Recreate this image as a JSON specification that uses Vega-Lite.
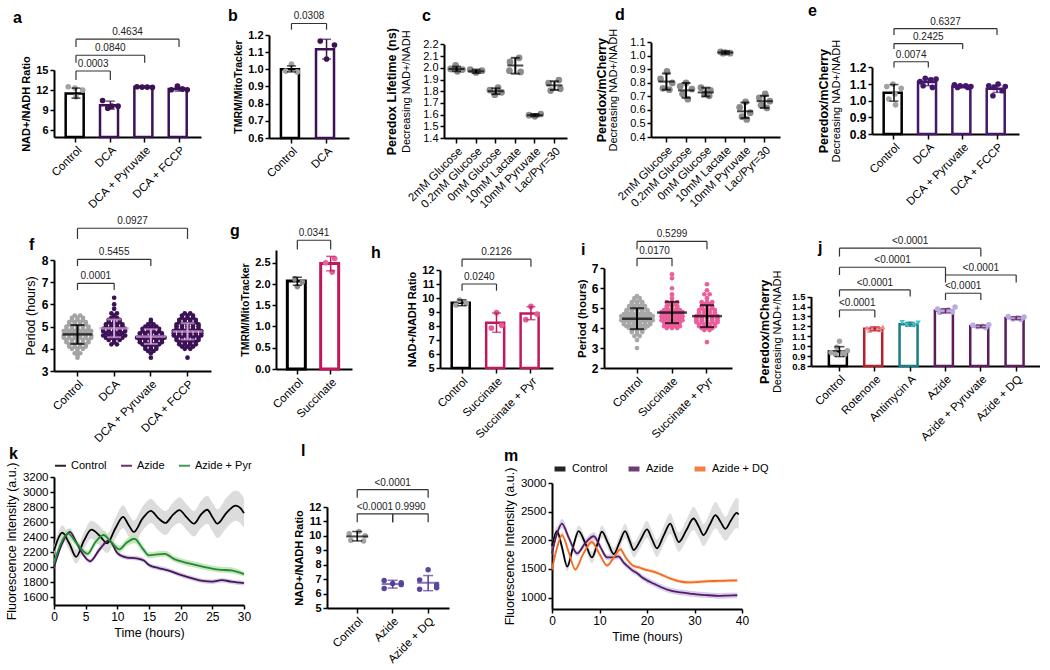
{
"$schema": "https://vega.github.io/schema/vega-lite/v6.json",
"padding": {"left": 5, "top": 2, "right": 0, "bottom": 0},
"background": "white",
"config": {
 "font": "Liberation Sans",
 "view": {"stroke": null},
 "axis": {"grid": false, "domainColor": "#000000", "domainWidth": 2, "tickColor": "#000000", "tickWidth": 1.5, "tickSize": 4, "labelColor": "#000000", "titleColor": "#000000", "labelFontSize": 11, "titleFontSize": 11, "labelPadding": 2, "titlePadding": 4, "labelFlush": false, "labelOverlap": false},
 "title": {"anchor": "start", "frame": "group", "fontSize": 16, "fontWeight": "bold", "color": "#000000"},
 "legend": {"labelFontSize": 11, "labelColor": "#000000"}
},
"datasets": {
 "a_s": [{"g":"Control","m":11.5,"lo":10.8,"hi":12.3},{"g":"DCA","m":9.75,"lo":9.15,"hi":10.35},{"g":"DCA + Pyruvate","m":12.45,"lo":12.35,"hi":12.55},{"g":"DCA + FCCP","m":12.15,"lo":11.85,"hi":12.45}],
 "a_p": [{"g":"Control","v":12.5,"s":-1.5},{"g":"Control","v":12.3,"s":-0.2},{"g":"Control","v":12.0,"s":1.3},{"g":"Control","v":11.0,"s":0},{"g":"DCA","v":10.45,"s":-1.5},{"g":"DCA","v":9.6,"s":0.3},{"g":"DCA","v":9.6,"s":1.5},{"g":"DCA","v":9.3,"s":-0.5},{"g":"DCA + Pyruvate","v":12.5,"s":-1.5},{"g":"DCA + Pyruvate","v":12.45,"s":-0.5},{"g":"DCA + Pyruvate","v":12.45,"s":0.5},{"g":"DCA + Pyruvate","v":12.4,"s":1.5},{"g":"DCA + FCCP","v":12.6,"s":-0.3},{"g":"DCA + FCCP","v":12.05,"s":-1.5},{"g":"DCA + FCCP","v":12.15,"s":0.7},{"g":"DCA + FCCP","v":12.05,"s":1.6}],
 "a_b": [{"g1":"Control","g2":"DCA","y":14.85,"ylo":13.5,"xm":0.5,"t":"0.0003"},{"g1":"Control","g2":"DCA + Pyruvate","y":17.2,"ylo":16.1,"xm":1,"t":"0.0840"},{"g1":"Control","g2":"DCA + FCCP","y":19.6,"ylo":18.45,"xm":1.5,"t":"0.4634"}],
 "b_s": [{"g":"Control","m":1.0,"lo":0.985,"hi":1.02},{"g":"DCA","m":1.117,"lo":1.06,"hi":1.175}],
 "b_p": [{"g":"Control","v":1.03,"s":0},{"g":"Control","v":0.99,"s":-1.1},{"g":"Control","v":0.985,"s":1.1},{"g":"DCA","v":1.165,"s":-1.2},{"g":"DCA","v":1.142,"s":1.5},{"g":"DCA","v":1.06,"s":0}],
 "b_b": [{"g1":"Control","g2":"DCA","y":1.267,"ylo":1.231,"xm":0.5,"t":"0.0308"}],
 "c_s": [{"g":"2mM Glucose","m":1.99,"lo":1.97,"hi":2.01},{"g":"0.2mM Glucose","m":1.97,"lo":1.955,"hi":1.985},{"g":"0mM Glucose","m":1.8,"lo":1.775,"hi":1.825},{"g":"10mM Lactate","m":2.02,"lo":1.95,"hi":2.085},{"g":"10mM Pyruvate","m":1.595,"lo":1.585,"hi":1.605},{"g":"Lac/Pyr=30","m":1.85,"lo":1.81,"hi":1.885}],
 "c_p": [{"g":"2mM Glucose","v":2.02,"s":-0.3},{"g":"2mM Glucose","v":1.99,"s":-2},{"g":"2mM Glucose","v":1.985,"s":2},{"g":"2mM Glucose","v":1.97,"s":0.3},{"g":"0.2mM Glucose","v":1.985,"s":-2},{"g":"0.2mM Glucose","v":1.975,"s":2},{"g":"0.2mM Glucose","v":1.96,"s":0},{"g":"0mM Glucose","v":1.83,"s":0.8},{"g":"0mM Glucose","v":1.81,"s":-2},{"g":"0mM Glucose","v":1.79,"s":2},{"g":"0mM Glucose","v":1.77,"s":-0.3},{"g":"10mM Lactate","v":2.085,"s":1.3},{"g":"10mM Lactate","v":2.05,"s":-1.8},{"g":"10mM Lactate","v":1.975,"s":-2},{"g":"10mM Lactate","v":1.965,"s":1.8},{"g":"10mM Pyruvate","v":1.605,"s":2},{"g":"10mM Pyruvate","v":1.595,"s":-2},{"g":"10mM Pyruvate","v":1.585,"s":0},{"g":"Lac/Pyr=30","v":1.895,"s":1.5},{"g":"Lac/Pyr=30","v":1.87,"s":-2},{"g":"Lac/Pyr=30","v":1.82,"s":2},{"g":"Lac/Pyr=30","v":1.805,"s":-1.3}],
 "d_s": [{"g":"2mM Glucose","m":0.81,"lo":0.75,"hi":0.87},{"g":"0.2mM Glucose","m":0.745,"lo":0.69,"hi":0.8},{"g":"0mM Glucose","m":0.73,"lo":0.7,"hi":0.765},{"g":"10mM Lactate","m":1.025,"lo":1.015,"hi":1.035},{"g":"10mM Pyruvate","m":0.59,"lo":0.54,"hi":0.655},{"g":"Lac/Pyr=30","m":0.665,"lo":0.615,"hi":0.705}],
 "d_p": [{"g":"2mM Glucose","v":0.885,"s":0.2},{"g":"2mM Glucose","v":0.83,"s":-2},{"g":"2mM Glucose","v":0.8,"s":2},{"g":"2mM Glucose","v":0.76,"s":-1.2},{"g":"2mM Glucose","v":0.75,"s":1.0},{"g":"0.2mM Glucose","v":0.8,"s":0},{"g":"0.2mM Glucose","v":0.775,"s":-2},{"g":"0.2mM Glucose","v":0.755,"s":2},{"g":"0.2mM Glucose","v":0.72,"s":-1.2},{"g":"0.2mM Glucose","v":0.68,"s":0.6},{"g":"0mM Glucose","v":0.765,"s":-1.6},{"g":"0mM Glucose","v":0.745,"s":1.6},{"g":"0mM Glucose","v":0.72,"s":-0.4},{"g":"0mM Glucose","v":0.705,"s":1.2},{"g":"10mM Lactate","v":1.03,"s":-1.6},{"g":"10mM Lactate","v":1.025,"s":0},{"g":"10mM Lactate","v":1.02,"s":1.6},{"g":"10mM Lactate","v":1.02,"s":-0.8},{"g":"10mM Pyruvate","v":0.66,"s":0.2},{"g":"10mM Pyruvate","v":0.62,"s":-1.8},{"g":"10mM Pyruvate","v":0.58,"s":1.8},{"g":"10mM Pyruvate","v":0.55,"s":-1.0},{"g":"10mM Pyruvate","v":0.53,"s":0.6},{"g":"Lac/Pyr=30","v":0.72,"s":0.2},{"g":"Lac/Pyr=30","v":0.69,"s":-1.8},{"g":"Lac/Pyr=30","v":0.665,"s":1.8},{"g":"Lac/Pyr=30","v":0.635,"s":-1.2},{"g":"Lac/Pyr=30","v":0.615,"s":0.8}],
 "e_s": [{"g":"Control","m":1.047,"lo":0.997,"hi":1.097},{"g":"DCA","m":1.112,"lo":1.09,"hi":1.134},{"g":"DCA + Pyruvate","m":1.085,"lo":1.077,"hi":1.093},{"g":"DCA + FCCP","m":1.072,"lo":1.05,"hi":1.094}],
 "e_p": [{"g":"Control","v":1.1,"s":-0.2},{"g":"Control","v":1.085,"s":-1.4},{"g":"Control","v":1.075,"s":1.4},{"g":"Control","v":1.04,"s":0.2},{"g":"Control","v":1.01,"s":-1.0},{"g":"Control","v":0.975,"s":0.3},{"g":"DCA","v":1.135,"s":-0.6},{"g":"DCA","v":1.13,"s":1.5},{"g":"DCA","v":1.125,"s":0.5},{"g":"DCA","v":1.115,"s":-1.6},{"g":"DCA","v":1.09,"s":-1.0},{"g":"DCA","v":1.08,"s":0.8},{"g":"DCA + Pyruvate","v":1.095,"s":-1.6},{"g":"DCA + Pyruvate","v":1.09,"s":-0.5},{"g":"DCA + Pyruvate","v":1.09,"s":0.6},{"g":"DCA + Pyruvate","v":1.085,"s":1.6},{"g":"DCA + Pyruvate","v":1.08,"s":-1.0},{"g":"DCA + Pyruvate","v":1.08,"s":1.0},{"g":"DCA + FCCP","v":1.1,"s":0.2},{"g":"DCA + FCCP","v":1.09,"s":-1.6},{"g":"DCA + FCCP","v":1.085,"s":1.6},{"g":"DCA + FCCP","v":1.08,"s":-0.6},{"g":"DCA + FCCP","v":1.06,"s":1.0},{"g":"DCA + FCCP","v":1.03,"s":-0.8}],
 "e_b": [{"g1":"Control","g2":"DCA","y":1.234,"ylo":1.2,"xm":0.5,"t":"0.0074"},{"g1":"Control","g2":"DCA + Pyruvate","y":1.343,"ylo":1.31,"xm":1,"t":"0.2425"},{"g1":"Control","g2":"DCA + FCCP","y":1.433,"ylo":1.395,"xm":1.5,"t":"0.6327"}],
 "f_sw": [
  {"g":"Control","v":3.6,"s":[0]},{"g":"Control","v":3.7,"s":[0]},{"g":"Control","v":3.8,"s":[-0.5,0.5]},{"g":"Control","v":3.9,"s":[0]},{"g":"Control","v":4.0,"s":[-1,0,1]},{"g":"Control","v":4.1,"s":[-1.5,-0.5,0.5,1.5]},{"g":"Control","v":4.2,"s":[-1.5,-0.5,0.5,1.5]},{"g":"Control","v":4.3,"s":[-2,-1,0,1,2]},{"g":"Control","v":4.4,"s":[-2,-1,0,1,2]},{"g":"Control","v":4.5,"s":[-2.5,-1.5,-0.5,0.5,1.5,2.5]},{"g":"Control","v":4.6,"s":[-2.5,-1.5,-0.5,0.5,1.5,2.5]},{"g":"Control","v":4.7,"s":[-2,-1,0,1,2]},{"g":"Control","v":4.8,"s":[-2.5,-1.5,-0.5,0.5,1.5,2.5]},{"g":"Control","v":4.9,"s":[-2,-1,0,1,2]},{"g":"Control","v":5.0,"s":[-2,-1,0,1,2]},{"g":"Control","v":5.1,"s":[-1.5,-0.5,0.5,1.5]},{"g":"Control","v":5.2,"s":[-1.5,-0.5,0.5,1.5]},{"g":"Control","v":5.3,"s":[-1,0,1]},{"g":"Control","v":5.4,"s":[-1,0,1]},{"g":"Control","v":5.5,"s":[-0.5,0.5]},
  {"g":"DCA","v":4.2,"s":[-0.5,0.5]},{"g":"DCA","v":4.3,"s":[0]},{"g":"DCA","v":4.4,"s":[-1,0,1]},{"g":"DCA","v":4.5,"s":[-1.5,-0.5,0.5,1.5]},{"g":"DCA","v":4.6,"s":[-2,-1,0,1,2]},{"g":"DCA","v":4.7,"s":[-1.5,-0.5,0.5,1.5]},{"g":"DCA","v":4.8,"s":[-2,-1,0,1,2]},{"g":"DCA","v":4.9,"s":[-2,-1,0,1,2]},{"g":"DCA","v":5.0,"s":[-1.5,-0.5,0.5,1.5]},{"g":"DCA","v":5.1,"s":[-1.5,-0.5,0.5,1.5]},{"g":"DCA","v":5.2,"s":[-1,0,1]},{"g":"DCA","v":5.3,"s":[-1,0,1]},{"g":"DCA","v":5.4,"s":[-0.5,0.5]},{"g":"DCA","v":5.5,"s":[0]},{"g":"DCA","v":5.6,"s":[-0.5,0.5]},{"g":"DCA","v":5.8,"s":[0]},{"g":"DCA","v":6.0,"s":[0]},{"g":"DCA","v":6.3,"s":[0]},
  {"g":"DCA + Pyruvate","v":3.6,"s":[0]},{"g":"DCA + Pyruvate","v":3.8,"s":[0]},{"g":"DCA + Pyruvate","v":3.9,"s":[-0.5,0.5]},{"g":"DCA + Pyruvate","v":4.0,"s":[-1,0,1]},{"g":"DCA + Pyruvate","v":4.1,"s":[-1,0,1]},{"g":"DCA + Pyruvate","v":4.2,"s":[-1.5,-0.5,0.5,1.5]},{"g":"DCA + Pyruvate","v":4.3,"s":[-2,-1,0,1,2]},{"g":"DCA + Pyruvate","v":4.4,"s":[-2,-1,0,1,2]},{"g":"DCA + Pyruvate","v":4.5,"s":[-2.5,-1.5,-0.5,0.5,1.5,2.5]},{"g":"DCA + Pyruvate","v":4.6,"s":[-2,-1,0,1,2]},{"g":"DCA + Pyruvate","v":4.7,"s":[-2,-1,0,1,2]},{"g":"DCA + Pyruvate","v":4.8,"s":[-1.5,-0.5,0.5,1.5]},{"g":"DCA + Pyruvate","v":4.9,"s":[-1.5,-0.5,0.5,1.5]},{"g":"DCA + Pyruvate","v":5.0,"s":[-1,0,1]},{"g":"DCA + Pyruvate","v":5.1,"s":[-0.5,0.5]},{"g":"DCA + Pyruvate","v":5.2,"s":[0]},{"g":"DCA + Pyruvate","v":5.3,"s":[0]},
  {"g":"DCA + FCCP","v":3.6,"s":[0]},{"g":"DCA + FCCP","v":4.0,"s":[-0.5,0.5]},{"g":"DCA + FCCP","v":4.1,"s":[-1,0,1]},{"g":"DCA + FCCP","v":4.2,"s":[-1.5,-0.5,0.5,1.5]},{"g":"DCA + FCCP","v":4.3,"s":[-1.5,-0.5,0.5,1.5]},{"g":"DCA + FCCP","v":4.4,"s":[-2,-1,0,1,2]},{"g":"DCA + FCCP","v":4.5,"s":[-2,-1,0,1,2]},{"g":"DCA + FCCP","v":4.6,"s":[-2.5,-1.5,-0.5,0.5,1.5,2.5]},{"g":"DCA + FCCP","v":4.7,"s":[-2.5,-1.5,-0.5,0.5,1.5,2.5]},{"g":"DCA + FCCP","v":4.8,"s":[-2.5,-1.5,-0.5,0.5,1.5,2.5]},{"g":"DCA + FCCP","v":4.9,"s":[-2,-1,0,1,2]},{"g":"DCA + FCCP","v":5.0,"s":[-2,-1,0,1,2]},{"g":"DCA + FCCP","v":5.1,"s":[-2,-1,0,1,2]},{"g":"DCA + FCCP","v":5.2,"s":[-1.5,-0.5,0.5,1.5]},{"g":"DCA + FCCP","v":5.3,"s":[-1.5,-0.5,0.5,1.5]},{"g":"DCA + FCCP","v":5.4,"s":[-1,0,1]},{"g":"DCA + FCCP","v":5.5,"s":[-1,0,1]},{"g":"DCA + FCCP","v":5.6,"s":[-0.5,0.5]}],
 "f_s": [{"g":"Control","m":4.65,"lo":4.22,"hi":5.07},{"g":"DCA","m":4.92,"lo":4.52,"hi":5.32},{"g":"DCA + Pyruvate","m":4.55,"lo":4.22,"hi":4.88},{"g":"DCA + FCCP","m":4.78,"lo":4.42,"hi":5.15}],
 "f_b": [{"g1":"Control","g2":"DCA","y":6.95,"ylo":6.65,"xm":0.5,"t":"0.0001"},{"g1":"Control","g2":"DCA + Pyruvate","y":8.03,"ylo":7.73,"xm":1,"t":"0.5455"},{"g1":"Control","g2":"DCA + FCCP","y":9.43,"ylo":8.95,"xm":1.5,"t":"0.0927"}],
 "g_s": [{"g":"Control","m":2.07,"lo":1.97,"hi":2.16},{"g":"Succinate","m":2.48,"lo":2.31,"hi":2.65}],
 "g_p": [{"g":"Control","v":2.12,"s":-0.5},{"g":"Control","v":2.05,"s":1.0},{"g":"Control","v":1.94,"s":0},{"g":"Succinate","v":2.6,"s":0.8},{"g":"Succinate","v":2.5,"s":-1.0},{"g":"Succinate","v":2.28,"s":0.3}],
 "g_b": [{"g1":"Control","g2":"Succinate","y":3.03,"ylo":2.81,"xm":0.5,"t":"0.0341"}],
 "h_s": [{"g":"Control","m":9.66,"lo":9.45,"hi":9.87},{"g":"Succinate","m":8.24,"lo":7.55,"hi":8.93},{"g":"Succinate + Pyr","m":8.9,"lo":8.45,"hi":9.38}],
 "h_p": [{"g":"Control","v":9.85,"s":-0.5},{"g":"Control","v":9.62,"s":0.8},{"g":"Control","v":9.5,"s":-1.2},{"g":"Succinate","v":8.95,"s":0},{"g":"Succinate","v":8.05,"s":1.0},{"g":"Succinate","v":7.85,"s":-1.0},{"g":"Succinate + Pyr","v":9.4,"s":0},{"g":"Succinate + Pyr","v":8.85,"s":1.2},{"g":"Succinate + Pyr","v":8.45,"s":-1.0}],
 "h_b": [{"g1":"Control","g2":"Succinate","y":11.0,"ylo":10.52,"xm":0.5,"t":"0.0240"},{"g1":"Control","g2":"Succinate + Pyr","y":12.77,"ylo":12.24,"xm":1,"t":"0.2126"}],
 "i_sw": [
  {"g":"Control","v":3.0,"s":[0]},{"g":"Control","v":3.4,"s":[0]},{"g":"Control","v":3.6,"s":[-0.5,0.5]},{"g":"Control","v":3.7,"s":[0]},{"g":"Control","v":3.8,"s":[-1,0,1]},{"g":"Control","v":3.9,"s":[-1,0,1]},{"g":"Control","v":4.0,"s":[-1.5,-0.5,0.5,1.5]},{"g":"Control","v":4.1,"s":[-2,-1,0,1,2]},{"g":"Control","v":4.2,"s":[-2.5,-1.5,-0.5,0.5,1.5,2.5]},{"g":"Control","v":4.3,"s":[-2.5,-1.5,-0.5,0.5,1.5,2.5]},{"g":"Control","v":4.4,"s":[-3,-2,-1,0,1,2,3]},{"g":"Control","v":4.5,"s":[-2.5,-1.5,-0.5,0.5,1.5,2.5]},{"g":"Control","v":4.6,"s":[-3,-2,-1,0,1,2,3]},{"g":"Control","v":4.7,"s":[-2.5,-1.5,-0.5,0.5,1.5,2.5]},{"g":"Control","v":4.8,"s":[-2,-1,0,1,2]},{"g":"Control","v":4.9,"s":[-2,-1,0,1,2]},{"g":"Control","v":5.0,"s":[-1.5,-0.5,0.5,1.5]},{"g":"Control","v":5.1,"s":[-1.5,-0.5,0.5,1.5]},{"g":"Control","v":5.2,"s":[-1,0,1]},{"g":"Control","v":5.3,"s":[-1,0,1]},{"g":"Control","v":5.4,"s":[-0.5,0.5]},{"g":"Control","v":5.5,"s":[-0.5,0.5]},{"g":"Control","v":5.6,"s":[0]},
  {"g":"Succinate","v":4.0,"s":[-1,0,1]},{"g":"Succinate","v":4.1,"s":[-1.5,-0.5,0.5,1.5]},{"g":"Succinate","v":4.2,"s":[-1,0,1]},{"g":"Succinate","v":4.3,"s":[-1.5,-0.5,0.5,1.5]},{"g":"Succinate","v":4.4,"s":[-2,-1,0,1,2]},{"g":"Succinate","v":4.5,"s":[-1.5,-0.5,0.5,1.5]},{"g":"Succinate","v":4.6,"s":[-2,-1,0,1,2]},{"g":"Succinate","v":4.7,"s":[-1.5,-0.5,0.5,1.5]},{"g":"Succinate","v":4.8,"s":[-2,-1,0,1,2]},{"g":"Succinate","v":4.9,"s":[-1.5,-0.5,0.5,1.5]},{"g":"Succinate","v":5.0,"s":[-1,0,1]},{"g":"Succinate","v":5.1,"s":[-1,0,1]},{"g":"Succinate","v":5.2,"s":[-0.5,0.5]},{"g":"Succinate","v":5.3,"s":[-1,0,1]},{"g":"Succinate","v":5.5,"s":[0]},{"g":"Succinate","v":5.7,"s":[0]},{"g":"Succinate","v":6.0,"s":[0]},{"g":"Succinate","v":6.5,"s":[0]},{"g":"Succinate","v":6.7,"s":[0]},
  {"g":"Succinate + Pyr","v":3.3,"s":[0]},{"g":"Succinate + Pyr","v":3.9,"s":[-0.5,0.5]},{"g":"Succinate + Pyr","v":4.0,"s":[-1,0,1]},{"g":"Succinate + Pyr","v":4.1,"s":[-1.5,-0.5,0.5,1.5]},{"g":"Succinate + Pyr","v":4.2,"s":[-1.5,-0.5,0.5,1.5]},{"g":"Succinate + Pyr","v":4.3,"s":[-2,-1,0,1,2]},{"g":"Succinate + Pyr","v":4.4,"s":[-2,-1,0,1,2]},{"g":"Succinate + Pyr","v":4.5,"s":[-2,-1,0,1,2]},{"g":"Succinate + Pyr","v":4.6,"s":[-2,-1,0,1,2]},{"g":"Succinate + Pyr","v":4.7,"s":[-1.5,-0.5,0.5,1.5]},{"g":"Succinate + Pyr","v":4.8,"s":[-1.5,-0.5,0.5,1.5]},{"g":"Succinate + Pyr","v":4.9,"s":[-1.5,-0.5,0.5,1.5]},{"g":"Succinate + Pyr","v":5.0,"s":[-1,0,1]},{"g":"Succinate + Pyr","v":5.1,"s":[-1,0,1]},{"g":"Succinate + Pyr","v":5.2,"s":[-0.5,0.5]},{"g":"Succinate + Pyr","v":5.3,"s":[-1,0,1]},{"g":"Succinate + Pyr","v":5.5,"s":[0]},{"g":"Succinate + Pyr","v":5.7,"s":[-0.5,0.5]},{"g":"Succinate + Pyr","v":5.9,"s":[0]},{"g":"Succinate + Pyr","v":6.2,"s":[0]}],
 "i_s": [{"g":"Control","m":4.47,"lo":3.95,"hi":5.0},{"g":"Succinate","m":4.78,"lo":4.25,"hi":5.32},{"g":"Succinate + Pyr","m":4.6,"lo":4.05,"hi":5.15}],
 "i_b": [{"g1":"Control","g2":"Succinate","y":7.5,"ylo":7.1,"xm":0.5,"t":"0.0170"},{"g1":"Control","g2":"Succinate + Pyr","y":8.35,"ylo":7.95,"xm":1,"t":"0.5299"}],
 "j_s": [{"g":"Control","m":0.945,"lo":0.895,"hi":0.995},{"g":"Rotenone","m":1.175,"lo":1.155,"hi":1.195},{"g":"Antimycin A","m":1.22,"lo":1.2,"hi":1.24},{"g":"Azide","m":1.357,"lo":1.335,"hi":1.378},{"g":"Azide + Pyruvate","m":1.2,"lo":1.188,"hi":1.213},{"g":"Azide + DQ","m":1.283,"lo":1.268,"hi":1.298}],
 "j_p": [{"g":"Control","v":1.05,"s":0},{"g":"Control","v":0.99,"s":-0.5},{"g":"Control","v":0.955,"s":1.5},{"g":"Control","v":0.935,"s":-1.6},{"g":"Control","v":0.93,"s":0.6},{"g":"Control","v":0.92,"s":-0.8},{"g":"Control","v":0.915,"s":1.0},{"g":"Rotenone","v":1.195,"s":1.5},{"g":"Rotenone","v":1.185,"s":-1.5},{"g":"Rotenone","v":1.18,"s":0.5},{"g":"Rotenone","v":1.175,"s":-0.5},{"g":"Rotenone","v":1.165,"s":1.0},{"g":"Rotenone","v":1.16,"s":-1.0},{"g":"Antimycin A","v":1.24,"s":-1.5},{"g":"Antimycin A","v":1.235,"s":1.5},{"g":"Antimycin A","v":1.225,"s":0},{"g":"Antimycin A","v":1.215,"s":-0.7},{"g":"Antimycin A","v":1.21,"s":0.8},{"g":"Azide","v":1.395,"s":1.8},{"g":"Azide","v":1.375,"s":-1.5},{"g":"Azide","v":1.365,"s":0.5},{"g":"Azide","v":1.355,"s":-0.5},{"g":"Azide","v":1.345,"s":1.3},{"g":"Azide","v":1.34,"s":-1.1},{"g":"Azide + Pyruvate","v":1.215,"s":1.5},{"g":"Azide + Pyruvate","v":1.21,"s":-1.5},{"g":"Azide + Pyruvate","v":1.2,"s":0.3},{"g":"Azide + Pyruvate","v":1.195,"s":-0.6},{"g":"Azide + Pyruvate","v":1.185,"s":0.9},{"g":"Azide + DQ","v":1.3,"s":-1.5},{"g":"Azide + DQ","v":1.295,"s":1.5},{"g":"Azide + DQ","v":1.285,"s":0.3},{"g":"Azide + DQ","v":1.275,"s":-0.6},{"g":"Azide + DQ","v":1.27,"s":0.9}],
 "j_b": [{"g1":"Control","g2":"Rotenone","y":1.365,"ylo":1.29,"xm":0.5,"t":"<0.0001"},{"g1":"Control","g2":"Antimycin A","y":1.567,"ylo":1.5,"xm":1,"t":"<0.0001"},{"g1":"Control","g2":"Azide","y":1.796,"ylo":1.718,"xm":1.5,"t":"<0.0001"},{"g1":"Control","g2":"Azide + Pyruvate","y":1.988,"ylo":1.904,"xm":2,"t":"<0.0001"},{"g1":"Azide","g2":"Azide + Pyruvate","y":1.534,"ylo":1.466,"xm":3.5,"t":"<0.0001"},{"g1":"Azide","g2":"Azide + DQ","y":1.718,"ylo":1.641,"xm":4,"t":"<0.0001"}],
 "l_s": [{"g":"Control","m":9.96,"lo":9.65,"hi":10.3},{"g":"Azide","m":6.66,"lo":6.38,"hi":6.92},{"g":"Azide + DQ","m":6.75,"lo":6.2,"hi":7.25}],
 "l_p": [{"g":"Control","v":10.3,"s":0.3},{"g":"Control","v":10.15,"s":-1.5},{"g":"Control","v":10.0,"s":1.5},{"g":"Control","v":9.7,"s":-1.2},{"g":"Control","v":9.65,"s":1.2},{"g":"Azide","v":6.9,"s":-1.6},{"g":"Azide","v":6.75,"s":1.6},{"g":"Azide","v":6.7,"s":0},{"g":"Azide","v":6.62,"s":1.6},{"g":"Azide","v":6.35,"s":-1.6},{"g":"Azide + DQ","v":7.65,"s":0},{"g":"Azide + DQ","v":6.95,"s":-1.6},{"g":"Azide + DQ","v":6.6,"s":1.6},{"g":"Azide + DQ","v":6.4,"s":1.6},{"g":"Azide + DQ","v":6.3,"s":-1.6}],
 "l_b": [{"g1":"Control","g2":"Azide + DQ","y":13.2,"ylo":12.64,"xm":1,"t":"<0.0001"},{"g1":"Control","g2":"Azide","y":11.53,"ylo":10.95,"xm":0.5,"t":"<0.0001"},{"g1":"Azide","g2":"Azide + DQ","y":11.53,"ylo":10.95,"xm":1.5,"t":"0.9990"}],
 "k_ts": [
  {"s":"Control","t":0,"v":2220,"lo":2150,"hi":2290},{"s":"Control","t":0.6,"v":2370,"lo":2290,"hi":2450},{"s":"Control","t":1.3,"v":2460,"lo":2370,"hi":2560},{"s":"Control","t":2.4,"v":2320,"lo":2230,"hi":2410},{"s":"Control","t":3.5,"v":2140,"lo":2050,"hi":2240},{"s":"Control","t":4.7,"v":2350,"lo":2240,"hi":2460},{"s":"Control","t":5.9,"v":2500,"lo":2380,"hi":2620},{"s":"Control","t":7.2,"v":2420,"lo":2290,"hi":2550},{"s":"Control","t":8.4,"v":2320,"lo":2190,"hi":2450},{"s":"Control","t":9.7,"v":2520,"lo":2380,"hi":2660},{"s":"Control","t":10.9,"v":2670,"lo":2520,"hi":2820},{"s":"Control","t":11.8,"v":2560,"lo":2410,"hi":2710},{"s":"Control","t":12.6,"v":2470,"lo":2320,"hi":2620},{"s":"Control","t":14,"v":2650,"lo":2490,"hi":2810},{"s":"Control","t":15.3,"v":2750,"lo":2590,"hi":2910},{"s":"Control","t":16.5,"v":2650,"lo":2490,"hi":2810},{"s":"Control","t":17.6,"v":2590,"lo":2430,"hi":2750},{"s":"Control","t":18.8,"v":2700,"lo":2540,"hi":2860},{"s":"Control","t":19.8,"v":2760,"lo":2590,"hi":2930},{"s":"Control","t":21,"v":2660,"lo":2490,"hi":2830},{"s":"Control","t":22.1,"v":2580,"lo":2410,"hi":2750},{"s":"Control","t":23.2,"v":2700,"lo":2520,"hi":2880},{"s":"Control","t":24.2,"v":2765,"lo":2580,"hi":2950},{"s":"Control","t":25,"v":2670,"lo":2480,"hi":2860},{"s":"Control","t":25.8,"v":2580,"lo":2390,"hi":2770},{"s":"Control","t":27.2,"v":2720,"lo":2520,"hi":2920},{"s":"Control","t":28.7,"v":2820,"lo":2620,"hi":3020},{"s":"Control","t":29.4,"v":2790,"lo":2590,"hi":2990},{"s":"Control","t":30,"v":2720,"lo":2530,"hi":2910},
  {"s":"Azide","t":0,"v":2000,"lo":1970,"hi":2030},{"s":"Azide","t":1.2,"v":2300,"lo":2260,"hi":2340},{"s":"Azide","t":2.5,"v":2470,"lo":2420,"hi":2520},{"s":"Azide","t":3.6,"v":2320,"lo":2280,"hi":2360},{"s":"Azide","t":4.5,"v":2180,"lo":2150,"hi":2210},{"s":"Azide","t":5.7,"v":2080,"lo":2050,"hi":2110},{"s":"Azide","t":7.2,"v":2240,"lo":2200,"hi":2280},{"s":"Azide","t":8.7,"v":2360,"lo":2320,"hi":2400},{"s":"Azide","t":10,"v":2190,"lo":2160,"hi":2220},{"s":"Azide","t":11.5,"v":2130,"lo":2100,"hi":2160},{"s":"Azide","t":13,"v":2120,"lo":2090,"hi":2150},{"s":"Azide","t":14.2,"v":2090,"lo":2060,"hi":2120},{"s":"Azide","t":15,"v":2030,"lo":2000,"hi":2060},{"s":"Azide","t":16.5,"v":1990,"lo":1960,"hi":2020},{"s":"Azide","t":18,"v":1960,"lo":1930,"hi":1990},{"s":"Azide","t":20,"v":1900,"lo":1870,"hi":1930},{"s":"Azide","t":22,"v":1850,"lo":1820,"hi":1880},{"s":"Azide","t":23.5,"v":1820,"lo":1790,"hi":1850},{"s":"Azide","t":25,"v":1810,"lo":1780,"hi":1840},{"s":"Azide","t":26.5,"v":1830,"lo":1800,"hi":1860},{"s":"Azide","t":28,"v":1810,"lo":1780,"hi":1840},{"s":"Azide","t":30,"v":1790,"lo":1760,"hi":1820},
  {"s":"Azide + Pyr","t":0,"v":2050,"lo":2000,"hi":2100},{"s":"Azide + Pyr","t":1,"v":2300,"lo":2240,"hi":2360},{"s":"Azide + Pyr","t":2.2,"v":2450,"lo":2390,"hi":2510},{"s":"Azide + Pyr","t":3.5,"v":2330,"lo":2280,"hi":2380},{"s":"Azide + Pyr","t":5.3,"v":2180,"lo":2140,"hi":2220},{"s":"Azide + Pyr","t":6.5,"v":2330,"lo":2280,"hi":2380},{"s":"Azide + Pyr","t":7.8,"v":2430,"lo":2370,"hi":2490},{"s":"Azide + Pyr","t":9,"v":2340,"lo":2290,"hi":2390},{"s":"Azide + Pyr","t":10.3,"v":2240,"lo":2190,"hi":2290},{"s":"Azide + Pyr","t":11.5,"v":2330,"lo":2280,"hi":2380},{"s":"Azide + Pyr","t":12.7,"v":2380,"lo":2320,"hi":2440},{"s":"Azide + Pyr","t":14,"v":2250,"lo":2200,"hi":2300},{"s":"Azide + Pyr","t":15,"v":2160,"lo":2120,"hi":2200},{"s":"Azide + Pyr","t":16,"v":2170,"lo":2130,"hi":2210},{"s":"Azide + Pyr","t":17.5,"v":2180,"lo":2140,"hi":2220},{"s":"Azide + Pyr","t":19,"v":2110,"lo":2070,"hi":2150},{"s":"Azide + Pyr","t":20.5,"v":2070,"lo":2030,"hi":2110},{"s":"Azide + Pyr","t":22,"v":2040,"lo":2000,"hi":2080},{"s":"Azide + Pyr","t":24,"v":2000,"lo":1960,"hi":2040},{"s":"Azide + Pyr","t":26,"v":1970,"lo":1930,"hi":2010},{"s":"Azide + Pyr","t":28,"v":1960,"lo":1920,"hi":2000},{"s":"Azide + Pyr","t":30,"v":1910,"lo":1880,"hi":1940}],
 "m_ts": [
  {"s":"Control","t":0,"v":1900,"lo":1830,"hi":1970},{"s":"Control","t":1.05,"v":2160,"lo":2080,"hi":2240},{"s":"Control","t":2.1,"v":1880,"lo":1800,"hi":1960},{"s":"Control","t":3.2,"v":1540,"lo":1460,"hi":1620},{"s":"Control","t":4.4,"v":1870,"lo":1780,"hi":1960},{"s":"Control","t":5.6,"v":2160,"lo":2060,"hi":2260},{"s":"Control","t":7,"v":1950,"lo":1850,"hi":2050},{"s":"Control","t":8.4,"v":1700,"lo":1600,"hi":1800},{"s":"Control","t":9.5,"v":1920,"lo":1810,"hi":2030},{"s":"Control","t":10.5,"v":2150,"lo":2040,"hi":2260},{"s":"Control","t":11.8,"v":1950,"lo":1840,"hi":2060},{"s":"Control","t":13,"v":1760,"lo":1650,"hi":1870},{"s":"Control","t":14.2,"v":1960,"lo":1840,"hi":2080},{"s":"Control","t":15.4,"v":2160,"lo":2030,"hi":2290},{"s":"Control","t":16.3,"v":2000,"lo":1870,"hi":2130},{"s":"Control","t":17.2,"v":1830,"lo":1700,"hi":1960},{"s":"Control","t":18.6,"v":2000,"lo":1860,"hi":2140},{"s":"Control","t":20,"v":2190,"lo":2040,"hi":2340},{"s":"Control","t":21,"v":2030,"lo":1880,"hi":2180},{"s":"Control","t":22.1,"v":1860,"lo":1710,"hi":2010},{"s":"Control","t":23.5,"v":2080,"lo":1920,"hi":2240},{"s":"Control","t":24.9,"v":2290,"lo":2110,"hi":2470},{"s":"Control","t":25.8,"v":2120,"lo":1950,"hi":2290},{"s":"Control","t":26.7,"v":1970,"lo":1800,"hi":2140},{"s":"Control","t":28.3,"v":2180,"lo":2000,"hi":2360},{"s":"Control","t":29.8,"v":2380,"lo":2180,"hi":2580},{"s":"Control","t":30.9,"v":2240,"lo":2040,"hi":2440},{"s":"Control","t":31.9,"v":2090,"lo":1900,"hi":2280},{"s":"Control","t":33.2,"v":2270,"lo":2060,"hi":2480},{"s":"Control","t":34.4,"v":2440,"lo":2210,"hi":2670},{"s":"Control","t":35.5,"v":2320,"lo":2100,"hi":2540},{"s":"Control","t":36.5,"v":2200,"lo":1990,"hi":2410},{"s":"Control","t":37.7,"v":2350,"lo":2110,"hi":2590},{"s":"Control","t":38.9,"v":2480,"lo":2220,"hi":2740},{"s":"Control","t":39.3,"v":2450,"lo":2190,"hi":2710},
  {"s":"Azide","t":0,"v":1770,"lo":1730,"hi":1810},{"s":"Azide","t":1,"v":2100,"lo":2040,"hi":2160},{"s":"Azide","t":2.1,"v":2290,"lo":2210,"hi":2370},{"s":"Azide","t":3.5,"v":2050,"lo":1990,"hi":2110},{"s":"Azide","t":5.3,"v":1770,"lo":1720,"hi":1820},{"s":"Azide","t":7,"v":1950,"lo":1890,"hi":2010},{"s":"Azide","t":8.8,"v":2070,"lo":2000,"hi":2140},{"s":"Azide","t":10.2,"v":1880,"lo":1820,"hi":1940},{"s":"Azide","t":11.6,"v":1700,"lo":1650,"hi":1750},{"s":"Azide","t":12.8,"v":1700,"lo":1650,"hi":1750},{"s":"Azide","t":14,"v":1720,"lo":1670,"hi":1770},{"s":"Azide","t":15,"v":1620,"lo":1570,"hi":1670},{"s":"Azide","t":16,"v":1540,"lo":1490,"hi":1590},{"s":"Azide","t":17,"v":1470,"lo":1420,"hi":1520},{"s":"Azide","t":18,"v":1420,"lo":1370,"hi":1470},{"s":"Azide","t":19,"v":1350,"lo":1300,"hi":1400},{"s":"Azide","t":20,"v":1300,"lo":1250,"hi":1350},{"s":"Azide","t":21.5,"v":1240,"lo":1190,"hi":1290},{"s":"Azide","t":23,"v":1180,"lo":1130,"hi":1230},{"s":"Azide","t":25,"v":1120,"lo":1070,"hi":1170},{"s":"Azide","t":27,"v":1090,"lo":1040,"hi":1140},{"s":"Azide","t":29,"v":1070,"lo":1020,"hi":1120},{"s":"Azide","t":31,"v":1050,"lo":1000,"hi":1100},{"s":"Azide","t":33,"v":1040,"lo":990,"hi":1090},{"s":"Azide","t":35,"v":1030,"lo":980,"hi":1080},{"s":"Azide","t":37,"v":1035,"lo":985,"hi":1085},{"s":"Azide","t":39,"v":1040,"lo":990,"hi":1090},
  {"s":"Azide + DQ","t":0,"v":1490,"lo":1460,"hi":1520},{"s":"Azide + DQ","t":1,"v":1850,"lo":1810,"hi":1890},{"s":"Azide + DQ","t":2.1,"v":2090,"lo":2040,"hi":2140},{"s":"Azide + DQ","t":3.5,"v":1800,"lo":1760,"hi":1840},{"s":"Azide + DQ","t":4.9,"v":1490,"lo":1460,"hi":1520},{"s":"Azide + DQ","t":6.5,"v":1750,"lo":1710,"hi":1790},{"s":"Azide + DQ","t":8.4,"v":1970,"lo":1920,"hi":2020},{"s":"Azide + DQ","t":10,"v":1760,"lo":1720,"hi":1800},{"s":"Azide + DQ","t":11.6,"v":1560,"lo":1530,"hi":1590},{"s":"Azide + DQ","t":13,"v":1700,"lo":1660,"hi":1740},{"s":"Azide + DQ","t":14.4,"v":1840,"lo":1790,"hi":1890},{"s":"Azide + DQ","t":15.5,"v":1700,"lo":1660,"hi":1740},{"s":"Azide + DQ","t":17,"v":1560,"lo":1530,"hi":1590},{"s":"Azide + DQ","t":18.5,"v":1520,"lo":1490,"hi":1550},{"s":"Azide + DQ","t":20,"v":1480,"lo":1450,"hi":1510},{"s":"Azide + DQ","t":21.5,"v":1450,"lo":1420,"hi":1480},{"s":"Azide + DQ","t":23,"v":1400,"lo":1370,"hi":1430},{"s":"Azide + DQ","t":25,"v":1330,"lo":1300,"hi":1360},{"s":"Azide + DQ","t":27,"v":1280,"lo":1250,"hi":1310},{"s":"Azide + DQ","t":29,"v":1265,"lo":1235,"hi":1295},{"s":"Azide + DQ","t":31,"v":1275,"lo":1245,"hi":1305},{"s":"Azide + DQ","t":33,"v":1285,"lo":1255,"hi":1315},{"s":"Azide + DQ","t":35,"v":1290,"lo":1260,"hi":1320},{"s":"Azide + DQ","t":37,"v":1295,"lo":1265,"hi":1325},{"s":"Azide + DQ","t":39,"v":1300,"lo":1270,"hi":1330}]
},
"spacing": -2,
"resolve": {"scale": {"color": "independent", "fill": "independent", "stroke": "independent", "shape": "independent", "xOffset": "independent"}},
"vconcat": [
{"vconcat": [
{"hconcat": [
{"hconcat": [
 {"width":147,"height":102,"title":{"text":"a","dx":-41,"offset":1},
  "resolve":{"scale":{"x":"independent"}},
  "layer":[
   {"layer":[
    {"data":{"name":"a_s"},"mark":{"type":"bar","fill":"white","strokeWidth":2.5},"encoding":{
      "x":{"field":"g","type":"nominal","scale":{"type":"band","domain":["Control","DCA","DCA + Pyruvate","DCA + FCCP"],"paddingInner":0.4,"paddingOuter":0.34},"axis":{"title":null,"labelAngle":-45,"labelFontSize":11.5,"tickSize":5}},
      "y":{"field":"m","type":"quantitative","scale":{"domain":[5,15],"range":[102,35],"nice":false,"zero":false},"axis":{"title":"NAD+/NADH Ratio","values":[6,9,12,15],"tickCount":20,"format":"d","labelFontWeight":"bold","titleFontWeight":"bold"}},
      "y2":{"datum":5},
      "stroke":{"field":"g","type":"nominal","scale":{"domain":["Control","DCA","DCA + Pyruvate","DCA + FCCP"],"range":["#000000","#3b1255","#3b1255","#3b1255"]},"legend":null}}},
    {"data":{"name":"a_p"},"mark":{"type":"circle","size":32,"opacity":1},"encoding":{"x":{"field":"g","type":"nominal"},"xOffset":{"field":"s","type":"quantitative","scale":{"domain":[-2,2]}},"y":{"field":"v","type":"quantitative"},"fill":{"field":"g","type":"nominal","scale":{"domain":["Control","DCA","DCA + Pyruvate","DCA + FCCP"],"range":["#a3a3a3","#3b1255","#3b1255","#3b1255"]},"legend":null}}},
    {"data":{"name":"a_s"},"mark":{"type":"rule","strokeWidth":1.5},"encoding":{"x":{"field":"g","type":"nominal"},"y":{"field":"lo","type":"quantitative"},"y2":{"field":"hi"},"stroke":{"field":"g","type":"nominal","legend":null}}},
    {"data":{"name":"a_s"},"mark":{"type":"tick","size":9,"thickness":1.5},"encoding":{"x":{"field":"g","type":"nominal"},"y":{"field":"lo","type":"quantitative"},"color":{"field":"g","type":"nominal","scale":{"domain":["Control","DCA","DCA + Pyruvate","DCA + FCCP"],"range":["#000000","#3b1255","#3b1255","#3b1255"]},"legend":null}}},
    {"data":{"name":"a_s"},"mark":{"type":"tick","size":9,"thickness":1.5},"encoding":{"x":{"field":"g","type":"nominal"},"y":{"field":"hi","type":"quantitative"},"color":{"field":"g","type":"nominal","legend":null}}},
    {"data":{"name":"a_b"},"mark":{"type":"rule","color":"#333333","strokeWidth":1.2},"encoding":{"x":{"field":"g1","type":"nominal"},"x2":{"field":"g2"},"y":{"field":"y","type":"quantitative"}}},
    {"data":{"name":"a_b"},"mark":{"type":"rule","color":"#333333","strokeWidth":1.2},"encoding":{"x":{"field":"g1","type":"nominal"},"y":{"field":"ylo","type":"quantitative"},"y2":{"field":"y"}}},
    {"data":{"name":"a_b"},"mark":{"type":"rule","color":"#333333","strokeWidth":1.2},"encoding":{"x":{"field":"g2","type":"nominal"},"y":{"field":"ylo","type":"quantitative"},"y2":{"field":"y"}}}
   ]},
   {"data":{"name":"a_b"},"mark":{"type":"text","baseline":"bottom","dy":-2,"fontSize":10,"color":"#222222"},"encoding":{"x":{"field":"xm","type":"quantitative","scale":{"domain":[-0.64,3.64],"nice":false,"zero":false},"axis":null},"y":{"field":"y","type":"quantitative"},"text":{"field":"t"}}}
  ]},
 {"width":80,"height":103,"title":{"text":"b","dx":-41,"offset":-13},
  "resolve":{"scale":{"x":"independent"}},
  "layer":[
   {"layer":[
    {"data":{"name":"b_s"},"mark":{"type":"bar","fill":"white","strokeWidth":2.5},"encoding":{
      "x":{"field":"g","type":"nominal","scale":{"type":"band","domain":["Control","DCA"],"paddingInner":0.4,"paddingOuter":0.34},"axis":{"title":null,"labelAngle":-45,"labelFontSize":11.5,"tickSize":5}},
      "y":{"field":"m","type":"quantitative","scale":{"domain":[0.6,1.2],"range":[103,0],"nice":false,"zero":false},"axis":{"title":"TMRM/MitoTracker","values":[0.6,0.7,0.8,0.9,1.0,1.1,1.2],"tickCount":20,"format":".1f","labelFontWeight":"bold","titleFontWeight":"bold","titleFontSize":10.5}},
      "y2":{"datum":0.6},
      "stroke":{"field":"g","type":"nominal","scale":{"domain":["Control","DCA"],"range":["#000000","#3b1255"]},"legend":null}}},
    {"data":{"name":"b_p"},"mark":{"type":"circle","size":32,"opacity":1},"encoding":{"x":{"field":"g","type":"nominal"},"xOffset":{"field":"s","type":"quantitative","scale":{"domain":[-2,2]}},"y":{"field":"v","type":"quantitative"},"fill":{"field":"g","type":"nominal","scale":{"domain":["Control","DCA"],"range":["#a3a3a3","#3b1255"]},"legend":null}}},
    {"data":{"name":"b_s"},"mark":{"type":"rule","strokeWidth":1.5},"encoding":{"x":{"field":"g","type":"nominal"},"y":{"field":"lo","type":"quantitative"},"y2":{"field":"hi"},"stroke":{"field":"g","type":"nominal","legend":null}}},
    {"data":{"name":"b_s"},"mark":{"type":"tick","size":9,"thickness":1.5},"encoding":{"x":{"field":"g","type":"nominal"},"y":{"field":"lo","type":"quantitative"},"color":{"field":"g","type":"nominal","scale":{"domain":["Control","DCA"],"range":["#000000","#3b1255"]},"legend":null}}},
    {"data":{"name":"b_s"},"mark":{"type":"tick","size":9,"thickness":1.5},"encoding":{"x":{"field":"g","type":"nominal"},"y":{"field":"hi","type":"quantitative"},"color":{"field":"g","type":"nominal","legend":null}}},
    {"data":{"name":"b_b"},"mark":{"type":"rule","color":"#333333","strokeWidth":1.2},"encoding":{"x":{"field":"g1","type":"nominal"},"x2":{"field":"g2"},"y":{"field":"y","type":"quantitative"}}},
    {"data":{"name":"b_b"},"mark":{"type":"rule","color":"#333333","strokeWidth":1.2},"encoding":{"x":{"field":"g1","type":"nominal"},"y":{"field":"ylo","type":"quantitative"},"y2":{"field":"y"}}},
    {"data":{"name":"b_b"},"mark":{"type":"rule","color":"#333333","strokeWidth":1.2},"encoding":{"x":{"field":"g2","type":"nominal"},"y":{"field":"ylo","type":"quantitative"},"y2":{"field":"y"}}}
   ]},
   {"data":{"name":"b_b"},"mark":{"type":"text","baseline":"bottom","dy":-2,"fontSize":10,"color":"#222222"},"encoding":{"x":{"field":"xm","type":"quantitative","scale":{"domain":[-0.64,1.64],"nice":false,"zero":false},"axis":null},"y":{"field":"y","type":"quantitative"},"text":{"field":"t"}}}
  ]}
 ],
 "spacing": 27,
 "resolve": {"scale": {"color": "independent", "fill": "independent", "stroke": "independent", "shape": "independent", "xOffset": "independent"}}
},
{"hconcat": [
 {"width":123,"height":103,"title":{"text":"c","dx":-22,"offset":4},
  "resolve":{"axis":{"y":"independent"}},
  "layer":[
   {"layer":[
    {"data":{"name":"c_p"},"mark":{"type":"circle","size":45,"opacity":1,"color":"#8c8c8c"},"encoding":{
      "x":{"field":"g","type":"nominal","scale":{"type":"band","domain":["2mM Glucose","0.2mM Glucose","0mM Glucose","10mM Lactate","10mM Pyruvate","Lac/Pyr=30"],"paddingInner":0.4,"paddingOuter":0.34},"axis":{"title":null,"labelAngle":-45,"labelFontSize":11.5,"tickSize":5}},
      "xOffset":{"field":"s","type":"quantitative","scale":{"domain":[-2,2]}},
      "y":{"field":"v","type":"quantitative","scale":{"domain":[1.4,2.2],"range":[103,9.4],"nice":false,"zero":false},"axis":{"title":"Decreasing NAD+/NADH","values":[1.4,1.5,1.6,1.7,1.8,1.9,2.0,2.1,2.2],"tickCount":20,"format":".1f","labelFontSize":11,"titleFontWeight":"normal","titleFontSize":11,"titlePadding":11}}}},
    {"data":{"name":"c_s"},"mark":{"type":"rule","color":"#000000","strokeWidth":2},"encoding":{"x":{"field":"g","type":"nominal"},"y":{"field":"lo","type":"quantitative"},"y2":{"field":"hi"}}},
    {"data":{"name":"c_s"},"mark":{"type":"tick","color":"#000000","size":9,"thickness":2},"encoding":{"x":{"field":"g","type":"nominal"},"y":{"field":"lo","type":"quantitative"}}},
    {"data":{"name":"c_s"},"mark":{"type":"tick","color":"#000000","size":9,"thickness":2},"encoding":{"x":{"field":"g","type":"nominal"},"y":{"field":"hi","type":"quantitative"}}}
   ]},
   {"data":{"name":"c_s"},"mark":{"type":"tick","color":"#000000","size":16,"thickness":2},"encoding":{"x":{"field":"g","type":"nominal"},"y":{"field":"m","type":"quantitative","axis":{"title":"Peredox Lifetime (ns)","orient":"left","labels":false,"ticks":false,"domain":false,"titleFontWeight":"bold","titleFontSize":12.5,"titlePadding":46}}}}
  ]},
 {"width":129,"height":102,"title":{"text":"d","dx":-36,"offset":5},
  "resolve":{"axis":{"y":"independent"}},
  "layer":[
   {"layer":[
    {"data":{"name":"d_p"},"mark":{"type":"circle","size":45,"opacity":1,"color":"#8c8c8c"},"encoding":{
      "x":{"field":"g","type":"nominal","scale":{"type":"band","domain":["2mM Glucose","0.2mM Glucose","0mM Glucose","10mM Lactate","10mM Pyruvate","Lac/Pyr=30"],"paddingInner":0.4,"paddingOuter":0.485},"axis":{"title":null,"labelAngle":-45,"labelFontSize":11.5,"tickSize":5}},
      "xOffset":{"field":"s","type":"quantitative","scale":{"domain":[-2,2]}},
      "y":{"field":"v","type":"quantitative","scale":{"domain":[0.4,1.1],"range":[102,7.4],"nice":false,"zero":false},"axis":{"title":"Decreasing NAD+/NADH","values":[0.4,0.5,0.6,0.7,0.8,0.9,1.0,1.1],"tickCount":20,"format":".1f","labelFontSize":11,"titleFontWeight":"normal","titleFontSize":11,"titlePadding":11}}}},
    {"data":{"name":"d_s"},"mark":{"type":"rule","color":"#000000","strokeWidth":2},"encoding":{"x":{"field":"g","type":"nominal"},"y":{"field":"lo","type":"quantitative"},"y2":{"field":"hi"}}},
    {"data":{"name":"d_s"},"mark":{"type":"tick","color":"#000000","size":9,"thickness":2},"encoding":{"x":{"field":"g","type":"nominal"},"y":{"field":"lo","type":"quantitative"}}},
    {"data":{"name":"d_s"},"mark":{"type":"tick","color":"#000000","size":9,"thickness":2},"encoding":{"x":{"field":"g","type":"nominal"},"y":{"field":"hi","type":"quantitative"}}}
   ]},
   {"data":{"name":"d_s"},"mark":{"type":"tick","color":"#000000","size":16,"thickness":2},"encoding":{"x":{"field":"g","type":"nominal"},"y":{"field":"m","type":"quantitative","axis":{"title":"Peredox/mCherry","orient":"left","labels":false,"ticks":false,"domain":false,"titleFontWeight":"bold","titleFontSize":12.5,"titlePadding":43}}}}
  ]},
 {"width":147,"height":99,"title":{"text":"e","dx":-64,"offset":-2},
  "resolve":{"scale":{"x":"independent"},"axis":{"y":"independent"}},
  "layer":[
   {"layer":[
    {"data":{"name":"e_s"},"mark":{"type":"bar","fill":"white","strokeWidth":2.5},"encoding":{
      "x":{"field":"g","type":"nominal","scale":{"type":"band","domain":["Control","DCA","DCA + Pyruvate","DCA + FCCP"],"paddingInner":0.4,"paddingOuter":0.34},"axis":{"title":null,"labelAngle":-45,"labelFontSize":11.5,"tickSize":5}},
      "y":{"field":"m","type":"quantitative","scale":{"domain":[0.8,1.2],"range":[99,32.4],"nice":false,"zero":false},"axis":{"title":"Decreasing NAD+/NADH","values":[0.8,0.9,1.0,1.1,1.2],"tickCount":20,"format":".1f","labelFontWeight":"bold","labelFontSize":12,"titleFontWeight":"normal","titleFontSize":11,"titlePadding":8}},
      "y2":{"datum":0.8},
      "stroke":{"field":"g","type":"nominal","scale":{"domain":["Control","DCA","DCA + Pyruvate","DCA + FCCP"],"range":["#000000","#44176a","#44176a","#44176a"]},"legend":null}}},
    {"data":{"name":"e_p"},"mark":{"type":"circle","size":32,"opacity":1},"encoding":{"x":{"field":"g","type":"nominal"},"xOffset":{"field":"s","type":"quantitative","scale":{"domain":[-2,2]}},"y":{"field":"v","type":"quantitative"},"fill":{"field":"g","type":"nominal","scale":{"domain":["Control","DCA","DCA + Pyruvate","DCA + FCCP"],"range":["#a3a3a3","#44176a","#44176a","#44176a"]},"legend":null}}},
    {"data":{"name":"e_s"},"mark":{"type":"rule","strokeWidth":1.5},"encoding":{"x":{"field":"g","type":"nominal"},"y":{"field":"lo","type":"quantitative"},"y2":{"field":"hi"},"stroke":{"field":"g","type":"nominal","legend":null}}},
    {"data":{"name":"e_s"},"mark":{"type":"tick","size":9,"thickness":1.5},"encoding":{"x":{"field":"g","type":"nominal"},"y":{"field":"lo","type":"quantitative"},"color":{"field":"g","type":"nominal","scale":{"domain":["Control","DCA","DCA + Pyruvate","DCA + FCCP"],"range":["#000000","#44176a","#44176a","#44176a"]},"legend":null}}},
    {"data":{"name":"e_s"},"mark":{"type":"tick","size":9,"thickness":1.5},"encoding":{"x":{"field":"g","type":"nominal"},"y":{"field":"hi","type":"quantitative"},"color":{"field":"g","type":"nominal","legend":null}}},
    {"data":{"name":"e_b"},"mark":{"type":"rule","color":"#333333","strokeWidth":1.2},"encoding":{"x":{"field":"g1","type":"nominal"},"x2":{"field":"g2"},"y":{"field":"y","type":"quantitative"}}},
    {"data":{"name":"e_b"},"mark":{"type":"rule","color":"#333333","strokeWidth":1.2},"encoding":{"x":{"field":"g1","type":"nominal"},"y":{"field":"ylo","type":"quantitative"},"y2":{"field":"y"}}},
    {"data":{"name":"e_b"},"mark":{"type":"rule","color":"#333333","strokeWidth":1.2},"encoding":{"x":{"field":"g2","type":"nominal"},"y":{"field":"ylo","type":"quantitative"},"y2":{"field":"y"}}}
   ]},
   {"data":{"name":"e_b"},"mark":{"type":"text","baseline":"bottom","dy":-2,"fontSize":10,"color":"#222222"},"encoding":{"x":{"field":"xm","type":"quantitative","scale":{"domain":[-0.64,3.64],"nice":false,"zero":false},"axis":null},"y":{"field":"y","type":"quantitative","axis":{"title":"Peredox/mCherry","orient":"left","labels":false,"ticks":false,"domain":false,"titleFontWeight":"bold","titleFontSize":12.5,"titlePadding":42}},"text":{"field":"t"}}}
  ]}
 ],
 "spacing": 28,
 "resolve": {"scale": {"color": "independent", "fill": "independent", "stroke": "independent", "shape": "independent", "xOffset": "independent"}}
}
],
"spacing": 35,
"resolve": {"scale": {"color": "independent", "fill": "independent", "stroke": "independent", "shape": "independent", "xOffset": "independent"}}
},
{"hconcat": [
{"hconcat": [
 {"width":157,"height":121,"title":{"text":"f","dx":-25,"offset":-37},
  "resolve":{"scale":{"x":"independent"}},
  "layer":[
   {"layer":[
    {"data":{"name":"f_sw"},"transform":[{"flatten":["s"]}],"mark":{"type":"circle","size":22,"opacity":1},"encoding":{
      "x":{"field":"g","type":"nominal","scale":{"type":"band","domain":["Control","DCA","DCA + Pyruvate","DCA + FCCP"],"paddingInner":0.4,"paddingOuter":0.34},"axis":{"title":null,"labelAngle":-45,"labelFontSize":11.5,"tickSize":5}},
      "xOffset":{"field":"s","type":"quantitative","scale":{"domain":[-2,2]}},
      "y":{"field":"v","type":"quantitative","scale":{"domain":[3,8],"range":[121,10],"nice":false,"zero":false},"axis":{"title":"Period (hours)","values":[3,4,5,6,7,8],"tickCount":20,"format":"d","labelFontWeight":"bold","labelFontSize":12,"titleFontWeight":"normal","titleFontSize":12.5}},
      "fill":{"field":"g","type":"nominal","scale":{"domain":["Control","DCA","DCA + Pyruvate","DCA + FCCP"],"range":["#a3a3a3","#3b1255","#3b1255","#3b1255"]},"legend":null}}},
    {"data":{"name":"f_s"},"mark":{"type":"rule","strokeWidth":2},"encoding":{"x":{"field":"g","type":"nominal"},"y":{"field":"lo","type":"quantitative"},"y2":{"field":"hi"},"stroke":{"field":"g","type":"nominal","scale":{"domain":["Control","DCA","DCA + Pyruvate","DCA + FCCP"],"range":["#000000","#dba8da","#dba8da","#dba8da"]},"legend":null}}},
    {"data":{"name":"f_s"},"mark":{"type":"tick","size":14,"thickness":2},"encoding":{"x":{"field":"g","type":"nominal"},"y":{"field":"lo","type":"quantitative"},"color":{"field":"g","type":"nominal","scale":{"domain":["Control","DCA","DCA + Pyruvate","DCA + FCCP"],"range":["#000000","#dba8da","#dba8da","#dba8da"]},"legend":null}}},
    {"data":{"name":"f_s"},"mark":{"type":"tick","size":14,"thickness":2},"encoding":{"x":{"field":"g","type":"nominal"},"y":{"field":"hi","type":"quantitative"},"color":{"field":"g","type":"nominal","legend":null}}},
    {"data":{"name":"f_s"},"mark":{"type":"tick","size":30,"thickness":2.5},"encoding":{"x":{"field":"g","type":"nominal"},"y":{"field":"m","type":"quantitative"},"color":{"field":"g","type":"nominal","legend":null}}},
    {"data":{"name":"f_b"},"mark":{"type":"rule","color":"#333333","strokeWidth":1.2},"encoding":{"x":{"field":"g1","type":"nominal"},"x2":{"field":"g2"},"y":{"field":"y","type":"quantitative"}}},
    {"data":{"name":"f_b"},"mark":{"type":"rule","color":"#333333","strokeWidth":1.2},"encoding":{"x":{"field":"g1","type":"nominal"},"y":{"field":"ylo","type":"quantitative"},"y2":{"field":"y"}}},
    {"data":{"name":"f_b"},"mark":{"type":"rule","color":"#333333","strokeWidth":1.2},"encoding":{"x":{"field":"g2","type":"nominal"},"y":{"field":"ylo","type":"quantitative"},"y2":{"field":"y"}}}
   ]},
   {"data":{"name":"f_b"},"mark":{"type":"text","baseline":"bottom","dy":-2,"fontSize":10,"color":"#222222"},"encoding":{"x":{"field":"xm","type":"quantitative","scale":{"domain":[-0.64,3.64],"nice":false,"zero":false},"axis":null},"y":{"field":"y","type":"quantitative"},"text":{"field":"t"}}}
  ]},
 {"width":76,"height":119,"title":{"text":"g","dx":-46,"offset":-11},
  "resolve":{"scale":{"x":"independent"}},
  "layer":[
   {"layer":[
    {"data":{"name":"g_s"},"mark":{"type":"bar","fill":"white","strokeWidth":3},"encoding":{
      "x":{"field":"g","type":"nominal","scale":{"type":"band","domain":["Control","Succinate"],"paddingInner":0.4,"paddingOuter":0.34},"axis":{"title":null,"labelAngle":-45,"labelFontSize":11.5,"tickSize":5}},
      "y":{"field":"m","type":"quantitative","scale":{"domain":[0,2.8],"range":[119,0],"nice":false,"zero":false},"axis":{"title":"TMRM/MitoTracker","values":[0,0.5,1,1.5,2,2.5],"tickCount":20,"format":".1f","labelFontWeight":"bold","titleFontWeight":"bold","titleFontSize":10.5}},
      "y2":{"datum":0},
      "stroke":{"field":"g","type":"nominal","scale":{"domain":["Control","Succinate"],"range":["#000000","#c2185b"]},"legend":null}}},
    {"data":{"name":"g_p"},"mark":{"type":"circle","size":32,"opacity":1},"encoding":{"x":{"field":"g","type":"nominal"},"xOffset":{"field":"s","type":"quantitative","scale":{"domain":[-2,2]}},"y":{"field":"v","type":"quantitative"},"fill":{"field":"g","type":"nominal","scale":{"domain":["Control","Succinate"],"range":["#8a8a8a","#e8609b"]},"legend":null}}},
    {"data":{"name":"g_s"},"mark":{"type":"rule","strokeWidth":1.5},"encoding":{"x":{"field":"g","type":"nominal"},"y":{"field":"lo","type":"quantitative"},"y2":{"field":"hi"},"stroke":{"field":"g","type":"nominal","legend":null}}},
    {"data":{"name":"g_s"},"mark":{"type":"tick","size":9,"thickness":1.5},"encoding":{"x":{"field":"g","type":"nominal"},"y":{"field":"lo","type":"quantitative"},"color":{"field":"g","type":"nominal","scale":{"domain":["Control","Succinate"],"range":["#000000","#c2185b"]},"legend":null}}},
    {"data":{"name":"g_s"},"mark":{"type":"tick","size":9,"thickness":1.5},"encoding":{"x":{"field":"g","type":"nominal"},"y":{"field":"hi","type":"quantitative"},"color":{"field":"g","type":"nominal","legend":null}}},
    {"data":{"name":"g_b"},"mark":{"type":"rule","color":"#333333","strokeWidth":1.2},"encoding":{"x":{"field":"g1","type":"nominal"},"x2":{"field":"g2"},"y":{"field":"y","type":"quantitative"}}},
    {"data":{"name":"g_b"},"mark":{"type":"rule","color":"#333333","strokeWidth":1.2},"encoding":{"x":{"field":"g1","type":"nominal"},"y":{"field":"ylo","type":"quantitative"},"y2":{"field":"y"}}},
    {"data":{"name":"g_b"},"mark":{"type":"rule","color":"#333333","strokeWidth":1.2},"encoding":{"x":{"field":"g2","type":"nominal"},"y":{"field":"ylo","type":"quantitative"},"y2":{"field":"y"}}}
   ]},
   {"data":{"name":"g_b"},"mark":{"type":"text","baseline":"bottom","dy":-2,"fontSize":10,"color":"#222222"},"encoding":{"x":{"field":"xm","type":"quantitative","scale":{"domain":[-0.64,1.64],"nice":false,"zero":false},"axis":null},"y":{"field":"y","type":"quantitative"},"text":{"field":"t"}}}
  ]},
 {"width":113,"height":118,"title":{"text":"h","dx":-69,"offset":-14},
  "resolve":{"scale":{"x":"independent"}},
  "layer":[
   {"layer":[
    {"data":{"name":"h_s"},"mark":{"type":"bar","fill":"white","strokeWidth":2.5},"encoding":{
      "x":{"field":"g","type":"nominal","scale":{"type":"band","domain":["Control","Succinate","Succinate + Pyr"],"paddingInner":0.4,"paddingOuter":0.34},"axis":{"title":null,"labelAngle":-45,"labelFontSize":11.5,"tickSize":5}},
      "y":{"field":"m","type":"quantitative","scale":{"domain":[5,12],"range":[118,20],"nice":false,"zero":false},"axis":{"title":"NAD+/NADH Ratio","values":[5,6,7,8,9,10,11,12],"tickCount":20,"format":"d","labelFontWeight":"bold","titleFontWeight":"bold"}},
      "y2":{"datum":5},
      "stroke":{"field":"g","type":"nominal","scale":{"domain":["Control","Succinate","Succinate + Pyr"],"range":["#000000","#c2185b","#c2185b"]},"legend":null}}},
    {"data":{"name":"h_p"},"mark":{"type":"circle","size":32,"opacity":1},"encoding":{"x":{"field":"g","type":"nominal"},"xOffset":{"field":"s","type":"quantitative","scale":{"domain":[-2,2]}},"y":{"field":"v","type":"quantitative"},"fill":{"field":"g","type":"nominal","scale":{"domain":["Control","Succinate","Succinate + Pyr"],"range":["#a3a3a3","#e35d98","#e35d98"]},"legend":null}}},
    {"data":{"name":"h_s"},"mark":{"type":"rule","strokeWidth":1.5},"encoding":{"x":{"field":"g","type":"nominal"},"y":{"field":"lo","type":"quantitative"},"y2":{"field":"hi"},"stroke":{"field":"g","type":"nominal","legend":null}}},
    {"data":{"name":"h_s"},"mark":{"type":"tick","size":9,"thickness":1.5},"encoding":{"x":{"field":"g","type":"nominal"},"y":{"field":"lo","type":"quantitative"},"color":{"field":"g","type":"nominal","scale":{"domain":["Control","Succinate","Succinate + Pyr"],"range":["#000000","#c2185b","#c2185b"]},"legend":null}}},
    {"data":{"name":"h_s"},"mark":{"type":"tick","size":9,"thickness":1.5},"encoding":{"x":{"field":"g","type":"nominal"},"y":{"field":"hi","type":"quantitative"},"color":{"field":"g","type":"nominal","legend":null}}},
    {"data":{"name":"h_b"},"mark":{"type":"rule","color":"#333333","strokeWidth":1.2},"encoding":{"x":{"field":"g1","type":"nominal"},"x2":{"field":"g2"},"y":{"field":"y","type":"quantitative"}}},
    {"data":{"name":"h_b"},"mark":{"type":"rule","color":"#333333","strokeWidth":1.2},"encoding":{"x":{"field":"g1","type":"nominal"},"y":{"field":"ylo","type":"quantitative"},"y2":{"field":"y"}}},
    {"data":{"name":"h_b"},"mark":{"type":"rule","color":"#333333","strokeWidth":1.2},"encoding":{"x":{"field":"g2","type":"nominal"},"y":{"field":"ylo","type":"quantitative"},"y2":{"field":"y"}}}
   ]},
   {"data":{"name":"h_b"},"mark":{"type":"text","baseline":"bottom","dy":-2,"fontSize":10,"color":"#222222"},"encoding":{"x":{"field":"xm","type":"quantitative","scale":{"domain":[-0.64,2.64],"nice":false,"zero":false},"axis":null},"y":{"field":"y","type":"quantitative"},"text":{"field":"t"}}}
  ]}
 ],
 "spacing": 19,
 "resolve": {"scale": {"color": "independent", "fill": "independent", "stroke": "independent", "shape": "independent", "xOffset": "independent"}}
},
{"hconcat": [
 {"width":128,"height":118,"title":{"text":"i","dx":-23,"offset":-29},
  "resolve":{"scale":{"x":"independent"}},
  "layer":[
   {"layer":[
    {"data":{"name":"i_sw"},"transform":[{"flatten":["s"]}],"mark":{"type":"circle","size":22,"opacity":1},"encoding":{
      "x":{"field":"g","type":"nominal","scale":{"type":"band","domain":["Control","Succinate","Succinate + Pyr"],"paddingInner":0.4,"paddingOuter":0.53,"align":0.608},"axis":{"title":null,"labelAngle":-45,"labelFontSize":11.5,"tickSize":5}},
      "xOffset":{"field":"s","type":"quantitative","scale":{"domain":[-2,2]}},
      "y":{"field":"v","type":"quantitative","scale":{"domain":[2,7],"range":[118,18.3],"nice":false,"zero":false},"axis":{"title":"Period (hours)","values":[2,3,4,5,6,7],"tickCount":20,"format":"d","labelFontWeight":"bold","labelFontSize":12,"titleFontWeight":"bold","titleFontSize":11.5}},
      "fill":{"field":"g","type":"nominal","scale":{"domain":["Control","Succinate","Succinate + Pyr"],"range":["#a8a8a8","#ea5f9c","#ea5f9c"]},"legend":null}}},
    {"data":{"name":"i_s"},"mark":{"type":"rule","strokeWidth":2,"color":"#000000"},"encoding":{"x":{"field":"g","type":"nominal"},"y":{"field":"lo","type":"quantitative"},"y2":{"field":"hi"}}},
    {"data":{"name":"i_s"},"mark":{"type":"tick","size":14,"thickness":2,"color":"#000000"},"encoding":{"x":{"field":"g","type":"nominal"},"y":{"field":"lo","type":"quantitative"}}},
    {"data":{"name":"i_s"},"mark":{"type":"tick","size":14,"thickness":2,"color":"#000000"},"encoding":{"x":{"field":"g","type":"nominal"},"y":{"field":"hi","type":"quantitative"}}},
    {"data":{"name":"i_s"},"mark":{"type":"tick","size":30,"thickness":2.5,"color":"#000000"},"encoding":{"x":{"field":"g","type":"nominal"},"y":{"field":"m","type":"quantitative"}}},
    {"data":{"name":"i_b"},"mark":{"type":"rule","color":"#333333","strokeWidth":1.2},"encoding":{"x":{"field":"g1","type":"nominal"},"x2":{"field":"g2"},"y":{"field":"y","type":"quantitative"}}},
    {"data":{"name":"i_b"},"mark":{"type":"rule","color":"#333333","strokeWidth":1.2},"encoding":{"x":{"field":"g1","type":"nominal"},"y":{"field":"ylo","type":"quantitative"},"y2":{"field":"y"}}},
    {"data":{"name":"i_b"},"mark":{"type":"rule","color":"#333333","strokeWidth":1.2},"encoding":{"x":{"field":"g2","type":"nominal"},"y":{"field":"ylo","type":"quantitative"},"y2":{"field":"y"}}}
   ]},
   {"data":{"name":"i_b"},"mark":{"type":"text","baseline":"bottom","dy":-2,"fontSize":10,"color":"#222222"},"encoding":{"x":{"field":"xm","type":"quantitative","scale":{"domain":[-0.945,2.715],"nice":false,"zero":false},"axis":null},"y":{"field":"y","type":"quantitative"},"text":{"field":"t"}}}
  ]},
 {"width":229,"height":116,"title":{"text":"j","dx":7,"offset":-20},
  "resolve":{"scale":{"x":"independent"},"axis":{"y":"independent"}},
  "layer":[
   {"layer":[
    {"data":{"name":"j_s"},"mark":{"type":"bar","fill":"white","strokeWidth":2.5},"encoding":{
      "x":{"field":"g","type":"nominal","scale":{"type":"band","domain":["Control","Rotenone","Antimycin A","Azide","Azide + Pyruvate","Azide + DQ"],"paddingInner":0.4,"paddingOuter":0.44,"align":0.575},"axis":{"title":null,"labelAngle":-45,"labelFontSize":11.5,"tickSize":5}},
      "y":{"field":"m","type":"quantitative","scale":{"domain":[0.8,1.5],"range":[116,46.6],"nice":false,"zero":false},"axis":{"title":"Decreasing NAD+/NADH","values":[0.8,0.9,1.0,1.1,1.2,1.3,1.4,1.5],"tickCount":20,"format":".1f","labelFontWeight":"bold","labelFontSize":9.5,"titleFontWeight":"normal","titleFontSize":11,"titlePadding":9}},
      "y2":{"datum":0.8},
      "stroke":{"field":"g","type":"nominal","scale":{"domain":["Control","Rotenone","Antimycin A","Azide","Azide + Pyruvate","Azide + DQ"],"range":["#000000","#b3202e","#197c87","#5c1b5a","#5c1b5a","#5c1b5a"]},"legend":null}}},
    {"data":{"name":"j_p"},"mark":{"type":"point","filled":true,"size":30,"opacity":1},"encoding":{"x":{"field":"g","type":"nominal"},"xOffset":{"field":"s","type":"quantitative","scale":{"domain":[-2,2]}},"y":{"field":"v","type":"quantitative"},"shape":{"field":"g","type":"nominal","scale":{"domain":["Control","Rotenone","Antimycin A","Azide","Azide + Pyruvate","Azide + DQ"],"range":["circle","triangle-up","triangle-down","circle","circle","circle"]},"legend":null},"fill":{"field":"g","type":"nominal","scale":{"domain":["Control","Rotenone","Antimycin A","Azide","Azide + Pyruvate","Azide + DQ"],"range":["#a3a3a3","#f08a8a","#45c4cc","#b9ace2","#b9ace2","#b9ace2"]},"legend":null}}},
    {"data":{"name":"j_s"},"mark":{"type":"rule","strokeWidth":1.5},"encoding":{"x":{"field":"g","type":"nominal"},"y":{"field":"lo","type":"quantitative"},"y2":{"field":"hi"},"stroke":{"field":"g","type":"nominal","legend":null}}},
    {"data":{"name":"j_s"},"mark":{"type":"tick","size":10,"thickness":1.5},"encoding":{"x":{"field":"g","type":"nominal"},"y":{"field":"lo","type":"quantitative"},"color":{"field":"g","type":"nominal","scale":{"domain":["Control","Rotenone","Antimycin A","Azide","Azide + Pyruvate","Azide + DQ"],"range":["#000000","#b3202e","#197c87","#5c1b5a","#5c1b5a","#5c1b5a"]},"legend":null}}},
    {"data":{"name":"j_s"},"mark":{"type":"tick","size":10,"thickness":1.5},"encoding":{"x":{"field":"g","type":"nominal"},"y":{"field":"hi","type":"quantitative"},"color":{"field":"g","type":"nominal","legend":null}}},
    {"data":{"name":"j_b"},"mark":{"type":"rule","color":"#333333","strokeWidth":1.2},"encoding":{"x":{"field":"g1","type":"nominal"},"x2":{"field":"g2"},"y":{"field":"y","type":"quantitative"}}},
    {"data":{"name":"j_b"},"mark":{"type":"rule","color":"#333333","strokeWidth":1.2},"encoding":{"x":{"field":"g1","type":"nominal"},"y":{"field":"ylo","type":"quantitative"},"y2":{"field":"y"}}},
    {"data":{"name":"j_b"},"mark":{"type":"rule","color":"#333333","strokeWidth":1.2},"encoding":{"x":{"field":"g2","type":"nominal"},"y":{"field":"ylo","type":"quantitative"},"y2":{"field":"y"}}}
   ]},
   {"data":{"name":"j_b"},"mark":{"type":"text","baseline":"bottom","dy":-2,"fontSize":10,"color":"#222222"},"encoding":{"x":{"field":"xm","type":"quantitative","scale":{"domain":[-0.81,5.677],"nice":false,"zero":false},"axis":null},"y":{"field":"y","type":"quantitative","axis":{"title":"Peredox/mCherry","orient":"left","labels":false,"ticks":false,"domain":false,"titleFontWeight":"bold","titleFontSize":12.5,"titlePadding":40}},"text":{"field":"t"}}}
  ]}
 ],
 "spacing": 26,
 "resolve": {"scale": {"color": "independent", "fill": "independent", "stroke": "independent", "shape": "independent", "xOffset": "independent"}}
}
],
"spacing": 23,
"resolve": {"scale": {"color": "independent", "fill": "independent", "stroke": "independent", "shape": "independent", "xOffset": "independent"}}
}
],
"spacing": 5,
"resolve": {"scale": {"color": "independent", "fill": "independent", "stroke": "independent", "shape": "independent", "xOffset": "independent"}}
},
{"hconcat": [
{"hconcat": [
 {"width":190,"height":128,"title":{"text":"k","dx":-45,"offset":-3},
  "data":{"name":"k_ts"},
  "layer":[
   {"mark":{"type":"area","opacity":0.85,"interpolate":"monotone"},"encoding":{
     "x":{"field":"t","type":"quantitative","scale":{"domain":[0,30],"nice":false,"zero":false},"axis":{"title":"Time (hours)","values":[0,5,10,15,20,25,30],"tickCount":20,"titleFontSize":12.5,"titleFontWeight":"normal","labelFontSize":12}},
     "y":{"field":"lo","type":"quantitative","scale":{"domain":[1500,3200],"nice":false,"zero":false},"axis":{"title":"Fluorescence Intensity (a.u.)","values":[1600,1800,2000,2200,2400,2600,2800,3000,3200],"tickCount":20,"format":"d","titleFontSize":12.5,"titleFontWeight":"normal","labelFontSize":11.5}},
     "y2":{"field":"hi"},
     "fill":{"field":"s","type":"nominal","scale":{"domain":["Control","Azide","Azide + Pyr"],"range":["#d6d6d6","#cbc5ec","#bfe3ad"]},"legend":{"orient":"top","direction":"horizontal","title":null,"symbolType":"stroke","symbolStrokeWidth":2,"symbolSize":120,"labelFontSize":11,"offset":6,"columnPadding":10}}}},
   {"mark":{"type":"line","strokeWidth":1.8,"interpolate":"monotone"},"encoding":{
     "x":{"field":"t","type":"quantitative"},
     "y":{"field":"v","type":"quantitative"},
     "stroke":{"field":"s","type":"nominal","scale":{"domain":["Control","Azide","Azide + Pyr"],"range":["#000000","#4a1550","#1f8a3c"]},"legend":{"orient":"top","direction":"horizontal","title":null,"symbolType":"stroke","symbolStrokeWidth":2,"symbolSize":120,"labelFontSize":11,"offset":6,"columnPadding":10}}}}
  ]},
 {"width":122,"height":131,"title":{"text":"l","dx":-26,"offset":18},
  "resolve":{"scale":{"x":"independent"}},
  "layer":[
   {"layer":[
    {"data":{"name":"l_p"},"mark":{"type":"circle","size":30,"opacity":1},"encoding":{
      "x":{"field":"g","type":"nominal","scale":{"type":"band","domain":["Control","Azide","Azide + DQ"],"paddingInner":0.4,"paddingOuter":0.42,"align":0.657},"axis":{"title":null,"labelAngle":-45,"labelFontSize":11.5,"tickSize":5}},
      "xOffset":{"field":"s","type":"quantitative","scale":{"domain":[-2,2]}},
      "y":{"field":"v","type":"quantitative","scale":{"domain":[5,12],"range":[131,30],"nice":false,"zero":false},"axis":{"title":"NAD+/NADH Ratio","values":[5,6,7,8,9,10,11,12],"tickCount":20,"format":"d","labelFontWeight":"bold","titleFontWeight":"bold"}},
      "fill":{"field":"g","type":"nominal","scale":{"domain":["Control","Azide","Azide + DQ"],"range":["#a3a3a3","#5a45a0","#5a45a0"]},"legend":null}}},
    {"data":{"name":"l_s"},"mark":{"type":"rule","strokeWidth":1.5},"encoding":{"x":{"field":"g","type":"nominal"},"y":{"field":"lo","type":"quantitative"},"y2":{"field":"hi"},"stroke":{"field":"g","type":"nominal","scale":{"domain":["Control","Azide","Azide + DQ"],"range":["#000000","#4f3d96","#4f3d96"]},"legend":null}}},
    {"data":{"name":"l_s"},"mark":{"type":"tick","size":10,"thickness":1.5},"encoding":{"x":{"field":"g","type":"nominal"},"y":{"field":"lo","type":"quantitative"},"color":{"field":"g","type":"nominal","scale":{"domain":["Control","Azide","Azide + DQ"],"range":["#000000","#4f3d96","#4f3d96"]},"legend":null}}},
    {"data":{"name":"l_s"},"mark":{"type":"tick","size":10,"thickness":1.5},"encoding":{"x":{"field":"g","type":"nominal"},"y":{"field":"hi","type":"quantitative"},"color":{"field":"g","type":"nominal","legend":null}}},
    {"data":{"name":"l_s"},"mark":{"type":"tick","size":22,"thickness":2},"encoding":{"x":{"field":"g","type":"nominal"},"y":{"field":"m","type":"quantitative"},"color":{"field":"g","type":"nominal","legend":null}}},
    {"data":{"name":"l_b"},"mark":{"type":"rule","color":"#333333","strokeWidth":1.2},"encoding":{"x":{"field":"g1","type":"nominal"},"x2":{"field":"g2"},"y":{"field":"y","type":"quantitative"}}},
    {"data":{"name":"l_b"},"mark":{"type":"rule","color":"#333333","strokeWidth":1.2},"encoding":{"x":{"field":"g1","type":"nominal"},"y":{"field":"ylo","type":"quantitative"},"y2":{"field":"y"}}},
    {"data":{"name":"l_b"},"mark":{"type":"rule","color":"#333333","strokeWidth":1.2},"encoding":{"x":{"field":"g2","type":"nominal"},"y":{"field":"ylo","type":"quantitative"},"y2":{"field":"y"}}}
   ]},
   {"data":{"name":"l_b"},"mark":{"type":"text","baseline":"bottom","dy":-2,"fontSize":10,"color":"#222222"},"encoding":{"x":{"field":"xm","type":"quantitative","scale":{"domain":[-0.851,2.589],"nice":false,"zero":false},"axis":null},"y":{"field":"y","type":"quantitative"},"text":{"field":"t"}}}
  ]}
 ],
 "spacing": 41,
 "resolve": {"scale": {"color": "independent", "fill": "independent", "stroke": "independent", "shape": "independent", "xOffset": "independent"}}
},
 {"width":190,"height":132,"title":{"text":"m","dx":-48,"offset":-3},
  "data":{"name":"m_ts"},
  "layer":[
   {"mark":{"type":"area","opacity":0.85,"interpolate":"monotone"},"encoding":{
     "x":{"field":"t","type":"quantitative","scale":{"domain":[0,40],"nice":false,"zero":false},"axis":{"title":"Time (hours)","values":[0,10,20,30,40],"tickCount":20,"titleFontSize":12.5,"titleFontWeight":"normal","labelFontSize":12}},
     "y":{"field":"lo","type":"quantitative","scale":{"domain":[800,3000],"range":[132,6],"nice":false,"zero":false},"axis":{"title":"Fluorescence Intensity (a.u.)","values":[1000,1500,2000,2500,3000],"tickCount":20,"format":"d","titleFontSize":12.5,"titleFontWeight":"normal","labelFontSize":11.5}},
     "y2":{"field":"hi"},
     "fill":{"field":"s","type":"nominal","scale":{"domain":["Control","Azide","Azide + DQ"],"range":["#d9d9d9","#cdc7ef","#fbd0b5"]},"legend":{"orient":"top","direction":"horizontal","title":null,"symbolType":"stroke","symbolStrokeWidth":5,"symbolSize":120,"labelFontSize":11,"offset":-2,"columnPadding":10}}}},
   {"mark":{"type":"line","strokeWidth":1.8,"interpolate":"monotone"},"encoding":{
     "x":{"field":"t","type":"quantitative"},
     "y":{"field":"v","type":"quantitative"},
     "stroke":{"field":"s","type":"nominal","scale":{"domain":["Control","Azide","Azide + DQ"],"range":["#000000","#5a1a5e","#f26b21"]},"legend":{"orient":"top","direction":"horizontal","title":null,"symbolType":"stroke","symbolStrokeWidth":5,"symbolSize":120,"labelFontSize":11,"offset":-2,"columnPadding":10}}}}
  ]}
],
"spacing": 54,
"resolve": {"scale": {"color": "independent", "fill": "independent", "stroke": "independent", "shape": "independent", "xOffset": "independent"}}
}
]
}
